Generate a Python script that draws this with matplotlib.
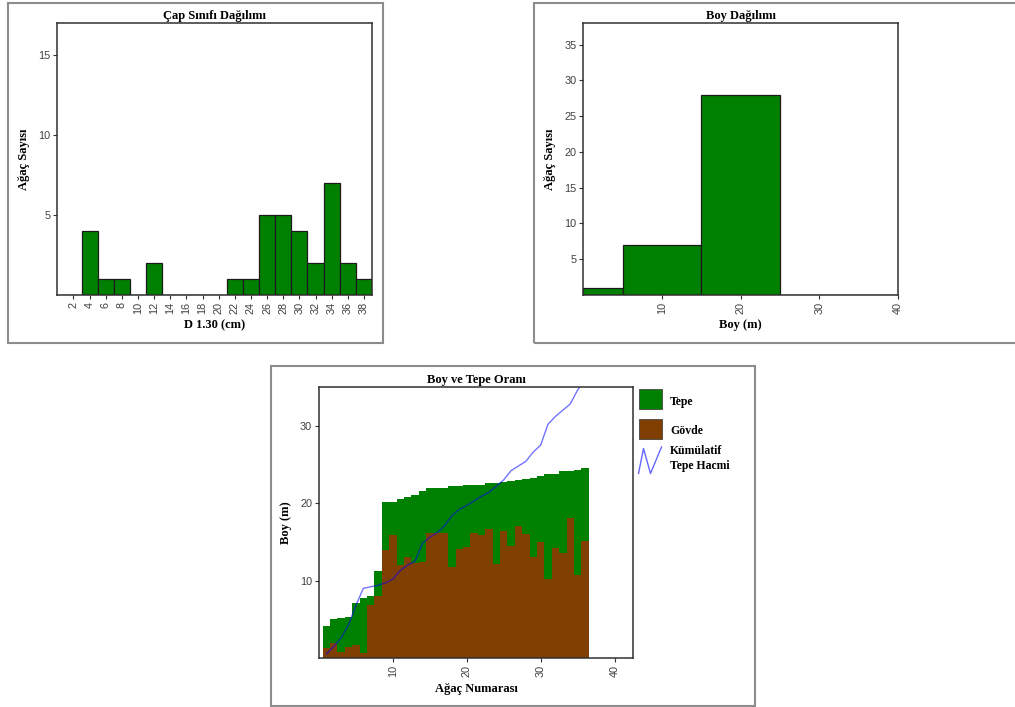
import matplotlib
matplotlib.use("Agg")
import matplotlib.pyplot as plt
from matplotlib.patches import Rectangle
from matplotlib.lines import Line2D

# --- data ---
# Çap sınıfı (D 1.30, cm) -> ağaç sayısı
cap_sinif = [2, 4, 6, 8, 10, 12, 14, 16, 18, 20, 22, 24, 26, 28, 30, 32, 34, 36, 38]
cap_sayi = [0, 4, 1, 1, 0, 2, 0, 0, 0, 0, 1, 1, 5, 5, 4, 2, 7, 2, 1]

# Boy dağılımı (bin kenarları, m)
boy_kenar = [0, 5, 15, 25, 40]
boy_sayi = [1, 7, 28, 0]

# Boy ve tepe oranı, ağaç 1..36
agac_no = list(range(1, 37))
toplam_boy = [4.1, 5.05, 5.13, 5.26, 7.07, 7.72, 7.95, 11.25, 20.1, 20.2,
              20.5, 20.8, 21.0, 21.6, 21.9, 21.9, 22.0, 22.2, 22.25, 22.3,
              22.35, 22.4, 22.55, 22.65, 22.7, 22.8, 22.95, 23.1, 23.3, 23.45,
              23.75, 23.8, 24.1, 24.15, 24.3, 24.5]
govde_boy = [1.33, 1.9, 0.82, 1.47, 1.68, 0.6, 6.86, 8.02, 13.97, 15.87,
             12.0, 13.0, 12.3, 12.35, 16.1, 16.1, 16.1, 11.7, 14.05, 14.36,
             16.2, 15.9, 16.7, 12.1, 16.35, 14.5, 17.1, 16.05, 13.0, 14.97,
             10.2, 14.27, 13.54, 18.1, 10.7, 15.1]
kum_tepe_hacmi = [0.5, 1.5, 2.6, 4.3, 6.8, 9.0, 9.2, 9.4, 9.7, 10.2,
                  11.3, 12.0, 12.5, 14.8, 15.6, 16.2, 17.1, 18.4, 19.2, 19.7,
                  20.3, 20.9, 21.4, 22.2, 23.0, 24.2, 24.8, 25.4, 26.6, 27.5,
                  30.2, 31.2, 32.0, 32.8, 34.6, 35.9]

YESIL = "#008000"
KAHVE = "#7f3f00"
SERIF = "Liberation Serif"
SANS = "Liberation Sans"

W, H = 1015, 707
fig = plt.figure(figsize=(W / 100, H / 100), dpi=100)


def px_axes(left, top, right, bottom):
    return fig.add_axes([left / W, 1 - bottom / H, (right - left) / W, (bottom - top) / H])


def panel(left, top, right, bottom):
    fig.patches.append(Rectangle((left / W, 1 - bottom / H), (right - left) / W,
                                 (bottom - top) / H, transform=fig.transFigure,
                                 fill=False, edgecolor="#8c8c8c", lw=1.5, zorder=0))


def style(ax, title, xlabel, ylabel):
    for s in ax.spines.values():
        s.set_color("#303030")
        s.set_linewidth(1.1)
    ax.tick_params(length=3, width=0.8, color="#303030", labelsize=7.8,
                   labelcolor="#404040", pad=2)
    ax.tick_params(axis="x", labelrotation=90)
    for lab in ax.get_xticklabels() + ax.get_yticklabels():
        lab.set_fontfamily(SANS)
    ax.set_title(title, fontfamily=SERIF, fontweight="bold", fontsize=9, pad=3)
    ax.set_xlabel(xlabel, fontfamily=SERIF, fontweight="bold", fontsize=9, labelpad=4)
    ax.set_ylabel(ylabel, fontfamily=SERIF, fontweight="bold", fontsize=9, labelpad=6)


panel(8, 3, 383, 343)
panel(534, 3, 1030, 343)
panel(271, 366, 755, 706)

# Çap sınıfı
ax1 = px_axes(57.3, 23.3, 372, 294.7)
ax1.bar(cap_sinif, cap_sayi, width=2, color=YESIL, edgecolor="#1a1a1a", linewidth=0.9)
ax1.set_xlim(0, 39)
ax1.set_ylim(0, 17)
ax1.set_xticks(cap_sinif)
ax1.set_yticks([5, 10, 15])
style(ax1, "Çap Sınıfı Dağılımı", "D 1.30 (cm)", "Ağaç Sayısı")

# Boy dağılımı
ax2 = px_axes(583.3, 23.3, 897.7, 294.7)
genislik = [boy_kenar[i + 1] - boy_kenar[i] for i in range(len(boy_sayi))]
ax2.bar(boy_kenar[:-1], boy_sayi, width=genislik, align="edge", color=YESIL,
        edgecolor="#1a1a1a", linewidth=0.9)
ax2.set_xlim(0, 40)
ax2.set_ylim(0, 38)
ax2.set_xticks([10, 20, 30, 40])
ax2.set_yticks([5, 10, 15, 20, 25, 30, 35])
style(ax2, "Boy Dağılımı", "Boy (m)", "Ağaç Sayısı")

# Boy ve tepe oranı
ax3 = px_axes(319, 387, 633, 658)
tepe = [t - g for t, g in zip(toplam_boy, govde_boy)]
ax3.bar(agac_no, govde_boy, width=1.0, color=KAHVE, linewidth=0)
ax3.bar(agac_no, tepe, bottom=govde_boy, width=1.0, color=YESIL, linewidth=0)
ax3.plot(agac_no, kum_tepe_hacmi, color="#0000ff", alpha=0.55, lw=1)
ax3.set_xlim(0, 42.5)
ax3.set_ylim(0, 35)
ax3.set_xticks([10, 20, 30, 40])
ax3.set_yticks([10, 20, 30])
style(ax3, "Boy ve Tepe Oranı", "Ağaç Numarası", "Boy (m)")

# legend
fig.patches.append(Rectangle((639 / W, 1 - 409.5 / H), 23 / W, 20 / H,
                             transform=fig.transFigure, facecolor=YESIL,
                             edgecolor="#444444", lw=0.6))
fig.patches.append(Rectangle((639 / W, 1 - 438.5 / H), 23 / W, 20 / H,
                             transform=fig.transFigure, facecolor=KAHVE,
                             edgecolor="#444444", lw=0.6))
zx = [638.5, 643.5, 650.5, 661.5]
zy = [473.5, 448.5, 473.5, 447.0]
fig.add_artist(Line2D([x / W for x in zx], [1 - y / H for y in zy],
                      transform=fig.transFigure, color="#0000ff", alpha=0.6, lw=1))
leg_font = dict(fontfamily=SERIF, fontweight="bold", fontsize=8.5, va="center")
fig.text(670 / W, 1 - 402.5 / H, "Tepe", **leg_font)
fig.text(670 / W, 1 - 431.5 / H, "Gövde", **leg_font)
fig.text(670 / W, 1 - 451.5 / H, "Kümülatif", **leg_font)
fig.text(670 / W, 1 - 465.5 / H, "Tepe Hacmi", **leg_font)

fig.savefig("out.png", dpi=100)
